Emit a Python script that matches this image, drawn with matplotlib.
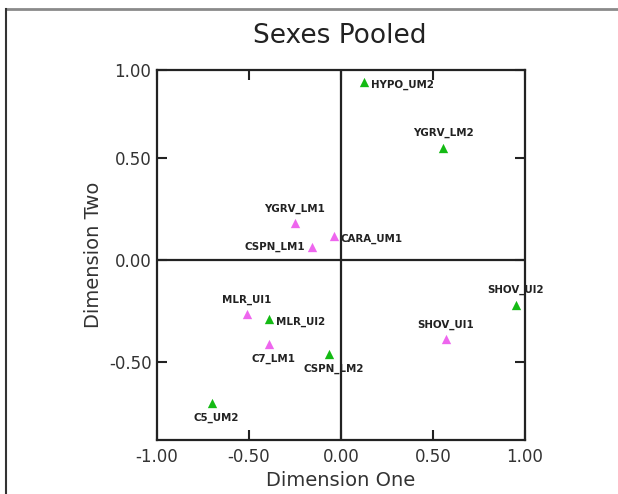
import matplotlib
matplotlib.use('Agg')
import matplotlib.pyplot as plt
from matplotlib.lines import Line2D

# Stimulus coordinates on the two MDS dimensions
labels = ['HYPO_UM2', 'YGRV_LM2', 'YGRV_LM1', 'CARA_UM1', 'CSPN_LM1',
          'MLR_UI1', 'MLR_UI2', 'C7_LM1', 'CSPN_LM2', 'SHOV_UI2',
          'SHOV_UI1', 'C5_UM2']
dim_one = [0.125, 0.554, -0.25, -0.038, -0.158,
           -0.511, -0.39, -0.39, -0.065, 0.951,
           0.57, -0.70]
dim_two = [0.87, 0.549, 0.18, 0.118, 0.064,
           -0.265, -0.29, -0.41, -0.457, -0.22,
           -0.387, -0.70]
group = ['upper', 'upper', 'lower', 'lower', 'lower',
         'lower', 'upper', 'lower', 'upper', 'upper',
         'lower', 'upper']

# where each name sits relative to its marker
placement = ['right', 'above', 'above', 'right', 'left',
             'above', 'right', 'below', 'below', 'above',
             'above', 'below']

x_ticks = [-1.0, -0.5, 0.0, 0.5, 1.0]
x_tick_labels = ['-1.00', '-0.50', '0.00', '0.50', '1.00']
y_ticks = [-0.5, 0.0, 0.5, 0.93]
y_tick_labels = ['-0.50', '0.00', '0.50', '1.00']

colours = {'upper': '#14ba14', 'lower': '#ee66ee'}

fig = plt.figure(figsize=(6.18, 4.94), dpi=100)
ax = fig.add_axes([0.254, 0.1093, 0.5955, 0.749])

for x, y, g in zip(dim_one, dim_two, group):
    ax.scatter(x, y, marker='^', s=45, color=colours[g], zorder=3,
               linewidths=0)

offsets = {'right': (5, -2, 'left', 'center'),
           'left': (-5, 0, 'right', 'center'),
           'above': (0, 7, 'center', 'bottom'),
           'below': (3, -7, 'center', 'top')}
for name, x, y, p in zip(labels, dim_one, dim_two, placement):
    dx, dy, ha, va = offsets[p]
    ax.annotate(name, (x, y), xytext=(dx, dy), textcoords='offset points',
                ha=ha, va=va, fontsize=7.4, fontweight='bold',
                color='#222222')

# reference cross through the origin
ax.axhline(0, color='#222222', lw=1.6, zorder=1)
ax.axvline(0, color='#222222', lw=1.6, zorder=1)

ax.set_xlim(-1.0, 1.0)
ax.set_ylim(-0.88, 0.93)
ax.set_xticks(x_ticks)
ax.set_xticklabels(x_tick_labels)
ax.set_yticks(y_ticks)
ax.set_yticklabels(y_tick_labels)
ax.tick_params(direction='in', length=7, width=1.5, colors='#222222',
               labelcolor='#333333', labelsize=12, top=True, right=True,
               pad=4)
ax.tick_params(axis='x', pad=6)
for s in ax.spines.values():
    s.set_linewidth(1.6)
    s.set_color('#222222')

ax.set_xlabel('Dimension One', fontsize=14, color='#333333', labelpad=3)
ax.set_ylabel('Dimension Two', fontsize=14, color='#333333', labelpad=4)
fig.text(0.549, 0.928, 'Sexes Pooled', fontsize=19, color='#222222',
         ha='center', va='center')

# outer frame lines
fig.add_artist(Line2D([6 / 618, 1], [1 - 9 / 494, 1 - 9 / 494],
                      color='#8a8a8a', lw=2))
fig.add_artist(Line2D([6 / 618, 6 / 618], [0, 1 - 9 / 494],
                      color='#333333', lw=1.5))

fig.savefig('out.png', dpi=100)
